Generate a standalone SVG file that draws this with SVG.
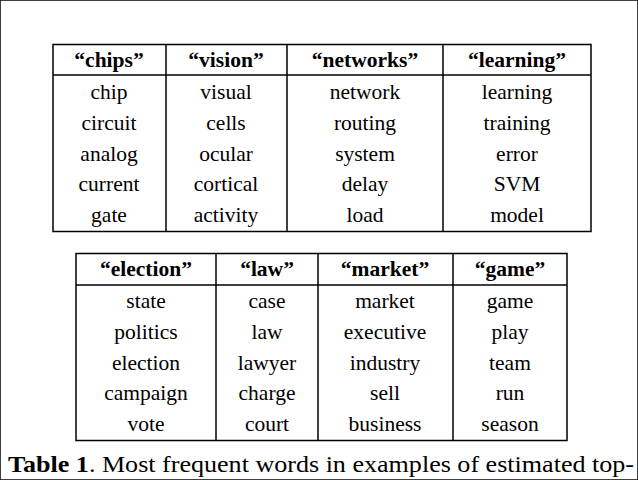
<svg xmlns="http://www.w3.org/2000/svg" width="638" height="480" viewBox="0 0 638 480">
<style>
text{font-family:'Liberation Serif','Times New Roman',Times,'DejaVu Serif',serif;font-size:21.5px;fill:#000;text-anchor:middle}
.h{font-weight:bold}
line,rect{stroke:#000;stroke-width:1.5;fill:none}
.c{text-anchor:start;font-size:23px}
</style>
<rect width="638" height="480" fill="#fff" stroke="none"/>
<g id="table1">
<rect x="53" y="44.5" width="538" height="187"/>
<line x1="53" y1="75" x2="591" y2="75"/>
<line x1="166" y1="44.5" x2="166" y2="231.5"/>
<line x1="287" y1="44.5" x2="287" y2="231.5"/>
<line x1="443" y1="44.5" x2="443" y2="231.5"/>
<text class="h" x="109" y="67">“chips”</text><text class="h" x="226" y="67">“vision”</text><text class="h" x="365" y="67">“networks”</text><text class="h" x="517" y="67">“learning”</text>
<text x="109" y="99">chip</text><text x="226" y="99">visual</text><text x="365" y="99">network</text><text x="517" y="99">learning</text>
<text x="109" y="130">circuit</text><text x="226" y="130">cells</text><text x="365" y="130">routing</text><text x="517" y="130">training</text>
<text x="109" y="161">analog</text><text x="226" y="161">ocular</text><text x="365" y="161">system</text><text x="517" y="161">error</text>
<text x="109" y="191">current</text><text x="226" y="191">cortical</text><text x="365" y="191">delay</text><text x="517" y="191">SVM</text>
<text x="109" y="222">gate</text><text x="226" y="222">activity</text><text x="365" y="222">load</text><text x="517" y="222">model</text>
</g>
<g id="table2">
<rect x="76" y="253.5" width="491" height="187"/>
<line x1="76" y1="285" x2="567" y2="285"/>
<line x1="216" y1="253.5" x2="216" y2="440.5"/>
<line x1="318" y1="253.5" x2="318" y2="440.5"/>
<line x1="453" y1="253.5" x2="453" y2="440.5"/>
<text class="h" x="146" y="276">“election”</text><text class="h" x="267" y="276">“law”</text><text class="h" x="385" y="276">“market”</text><text class="h" x="510" y="276">“game”</text>
<text x="146" y="308">state</text><text x="267" y="308">case</text><text x="385" y="308">market</text><text x="510" y="308">game</text>
<text x="146" y="339">politics</text><text x="267" y="339">law</text><text x="385" y="339">executive</text><text x="510" y="339">play</text>
<text x="146" y="370">election</text><text x="267" y="370">lawyer</text><text x="385" y="370">industry</text><text x="510" y="370">team</text>
<text x="146" y="400">campaign</text><text x="267" y="400">charge</text><text x="385" y="400">sell</text><text x="510" y="400">run</text>
<text x="146" y="431">vote</text><text x="267" y="431">court</text><text x="385" y="431">business</text><text x="510" y="431">season</text>
</g>
<text class="c" x="8" y="472" textLength="626" lengthAdjust="spacingAndGlyphs"><tspan font-weight="bold">Table 1</tspan>.  Most frequent words in examples of estimated top-</text>
</svg>
